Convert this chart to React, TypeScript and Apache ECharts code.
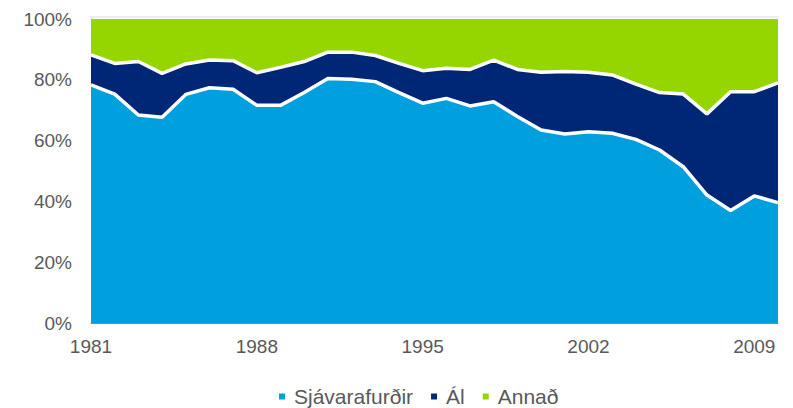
import React, { useEffect, useRef } from "react";
import * as echarts from "echarts";

const years = [
  "1981", "1982", "1983", "1984", "1985", "1986", "1987", "1988", "1989", "1990",
  "1991", "1992", "1993", "1994", "1995", "1996", "1997", "1998", "1999", "2000",
  "2001", "2002", "2003", "2004", "2005", "2006", "2007", "2008", "2009", "2010",
];

const sjavarafurdir = [
  78.3, 75.3, 68.4, 67.7, 75.2, 77.4, 76.9, 71.6, 71.6, 75.8,
  80.4, 80.2, 79.4, 75.8, 72.3, 73.9, 71.4, 72.8, 67.9, 63.5,
  62.2, 62.9, 62.4, 60.4, 56.9, 51.4, 42.1, 37.0, 41.8, 39.6,
];

const al = [
  9.9, 10.1, 17.6, 14.4, 10.0, 9.1, 9.4, 10.7, 12.5, 10.2,
  8.7, 8.9, 8.6, 9.6, 10.7, 9.9, 12.0, 13.7, 15.5, 19.0,
  20.5, 19.6, 19.2, 18.2, 18.9, 23.9, 26.7, 39.1, 34.3, 39.4,
];

const annad = [
  11.8, 14.6, 14.0, 17.9, 14.8, 13.5, 13.7, 17.7, 15.9, 14.0,
  10.9, 10.9, 12.0, 14.6, 17.0, 16.2, 16.6, 13.5, 16.6, 17.5,
  17.3, 17.5, 18.4, 21.4, 24.2, 24.7, 31.2, 23.9, 23.9, 21.0,
];

const xTickLabels = ["1981", "1988", "1995", "2002", "2009"];

const FONT = "'Liberation Sans', Arial, sans-serif";
const TEXT = "#595959";

export default function App() {
  const ref = useRef<HTMLDivElement>(null);

  useEffect(() => {
    if (!ref.current) return;
    document.body.style.margin = "0";
    const chart = echarts.init(ref.current, undefined, { renderer: "svg" });
    const mk = (name: string, data: number[], color: string, lw: number) => ({
      name,
      type: "line",
      stack: "total",
      data,
      symbol: "none",
      smooth: false,
      lineStyle: { color: "#ffffff", width: lw },
      itemStyle: { color },
      areaStyle: { color, opacity: 1 },
      emphasis: { disabled: true },
    });
    chart.setOption({
      animation: false,
      grid: { left: 91, right: 15, top: 19, bottom: 85, containLabel: false },
      graphic: [
        {
          type: "line",
          shape: { x1: 90, y1: 17, x2: 779, y2: 17 },
          style: { stroke: "#d9d9d9", lineWidth: 1 },
        },
      ],
      legend: {
        top: 386,
        left: 279,
        padding: 0,
        icon: "rect",
        itemWidth: 6,
        itemHeight: 6,
        itemGap: 18,
        textStyle: { fontFamily: FONT, fontSize: 21, color: TEXT, padding: [0, 0, 0, 4] },
        data: ["Sjávarafurðir", "Ál", "Annað"],
      },
      xAxis: {
        type: "category",
        data: years,
        boundaryGap: false,
        axisLine: { show: true, lineStyle: { color: "#868686", width: 1 } },
        axisTick: { show: false },
        splitLine: { show: false },
        axisLabel: {
          fontFamily: FONT,
          fontSize: 19,
          color: TEXT,
          margin: 14,
          interval: 0,
          formatter: (v: string) => (xTickLabels.includes(v) ? v : ""),
        },
      },
      yAxis: {
        type: "value",
        min: 0,
        max: 100,
        interval: 20,
        axisLine: { show: true, lineStyle: { color: "#868686", width: 1 } },
        axisTick: { show: false },
        splitLine: { show: false },
        axisLabel: {
          fontFamily: FONT,
          fontSize: 19,
          color: TEXT,
          margin: 19,
          formatter: (v: number) => `${v}%`,
        },
      },
      series: [
        mk("Sjávarafurðir", sjavarafurdir, "#00a0df", 3.5),
        mk("Ál", al, "#002776", 3.5),
        mk("Annað", annad, "#95d600", 0),
      ],
    });
    return () => chart.dispose();
  }, []);

  return <div ref={ref} style={{ width: 793, height: 408 }} />;
}
